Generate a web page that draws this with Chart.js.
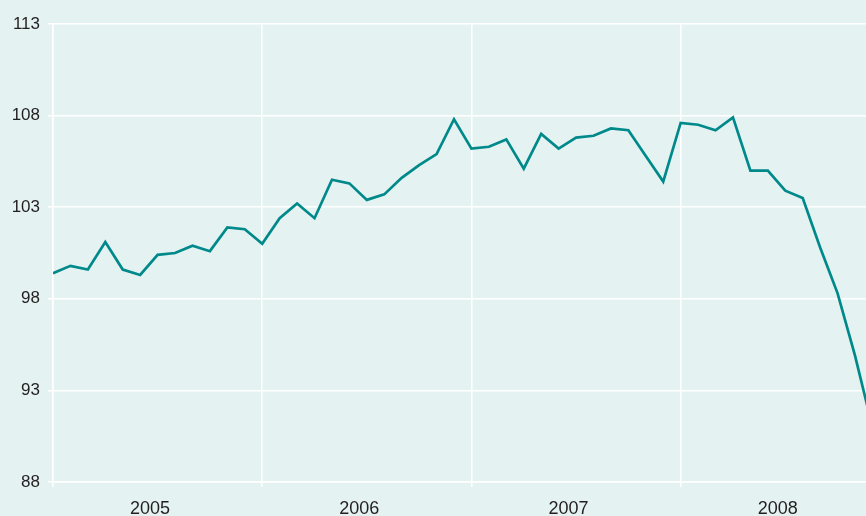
<!DOCTYPE html>
<html>
<head>
<meta charset="utf-8">
<script src="https://cdn.jsdelivr.net/npm/chart.js@4.4.1/dist/chart.umd.min.js"></script>
<style>
    html, body { margin: 0; padding: 0; background: #e4f2f2; }
    #wrap { width: 866px; height: 516px; position: relative; }
</style>
</head>
<body>
<div id="wrap"><canvas id="indexChart"></canvas></div>
<script>
    // Monthly index, Jan 2005 .. Dec 2008
    const years = ['2005', '2006', '2007', '2008'];
    const yTicks = [88, 93, 98, 103, 108, 113];
    const values = [
        99.4, 99.8, 99.6, 101.1, 99.6, 99.3, 100.4, 100.5, 100.9, 100.6, 101.9, 101.8,
        101.0, 102.4, 103.2, 102.4, 104.5, 104.3, 103.4, 103.7, 104.6, 105.3, 105.9, 107.8,
        106.2, 106.3, 106.7, 105.1, 107.0, 106.2, 106.8, 106.9, 107.3, 107.2, 105.8, 104.4,
        107.6, 107.5, 107.2, 107.9, 105.0, 105.0, 103.9, 103.5, 100.8, 98.3, 94.9, 91.0
    ];

    const textColor = '#231f20';
    const lineColor = '#00898a';
    const gridColor = '#ffffff';

    function initChart() {
        const ctx = document.getElementById('indexChart').getContext('2d');

        const points = values.map((v, i) => ({ x: i, y: v }));

        const config = {
            type: 'line',
            data: {
                datasets: [{
                    data: points,
                    borderColor: lineColor,
                    borderWidth: 2.7,
                    pointRadius: 0,
                    tension: 0,
                    fill: false
                }]
            },
            options: {
                responsive: true,
                maintainAspectRatio: false,
                animation: false,
                layout: { padding: { top: 24, right: 0, bottom: 0, left: 0 } },
                plugins: {
                    legend: { display: false },
                    tooltip: { enabled: false }
                },
                scales: {
                    x: {
                        type: 'linear',
                        min: 0,
                        max: 46.63,
                        afterBuildTicks: (axis) => {
                            axis.ticks = years.map((y, i) => ({ value: i * 12 }));
                        },
                        afterFit: (axis) => { axis.height = 34; },
                        grid: {
                            color: gridColor,
                            lineWidth: 1.5,
                            tickLength: 5,
                            tickColor: gridColor
                        },
                        border: { color: gridColor, width: 1.5 },
                        ticks: {
                            autoSkip: false,
                            maxRotation: 0,
                            labelOffset: 97,
                            padding: 11,
                            color: textColor,
                            font: { family: 'Liberation Sans, Arial, sans-serif', size: 18 },
                            callback: (value) => years[value / 12]
                        }
                    },
                    y: {
                        min: 88,
                        max: 113,
                        afterBuildTicks: (axis) => {
                            axis.ticks = yTicks.map(v => ({ value: v }));
                        },
                        afterFit: (axis) => { axis.width = 53; },
                        grid: {
                            color: gridColor,
                            lineWidth: 1.5,
                            tickLength: 5,
                            tickColor: gridColor
                        },
                        border: { color: gridColor, width: 1.5 },
                        ticks: {
                            padding: 8,
                            color: textColor,
                            font: { family: 'Liberation Sans, Arial, sans-serif', size: 17 }
                        }
                    }
                }
            }
        };

        new Chart(ctx, config);
    }

    document.addEventListener('DOMContentLoaded', initChart);
</script>
</body>
</html>
